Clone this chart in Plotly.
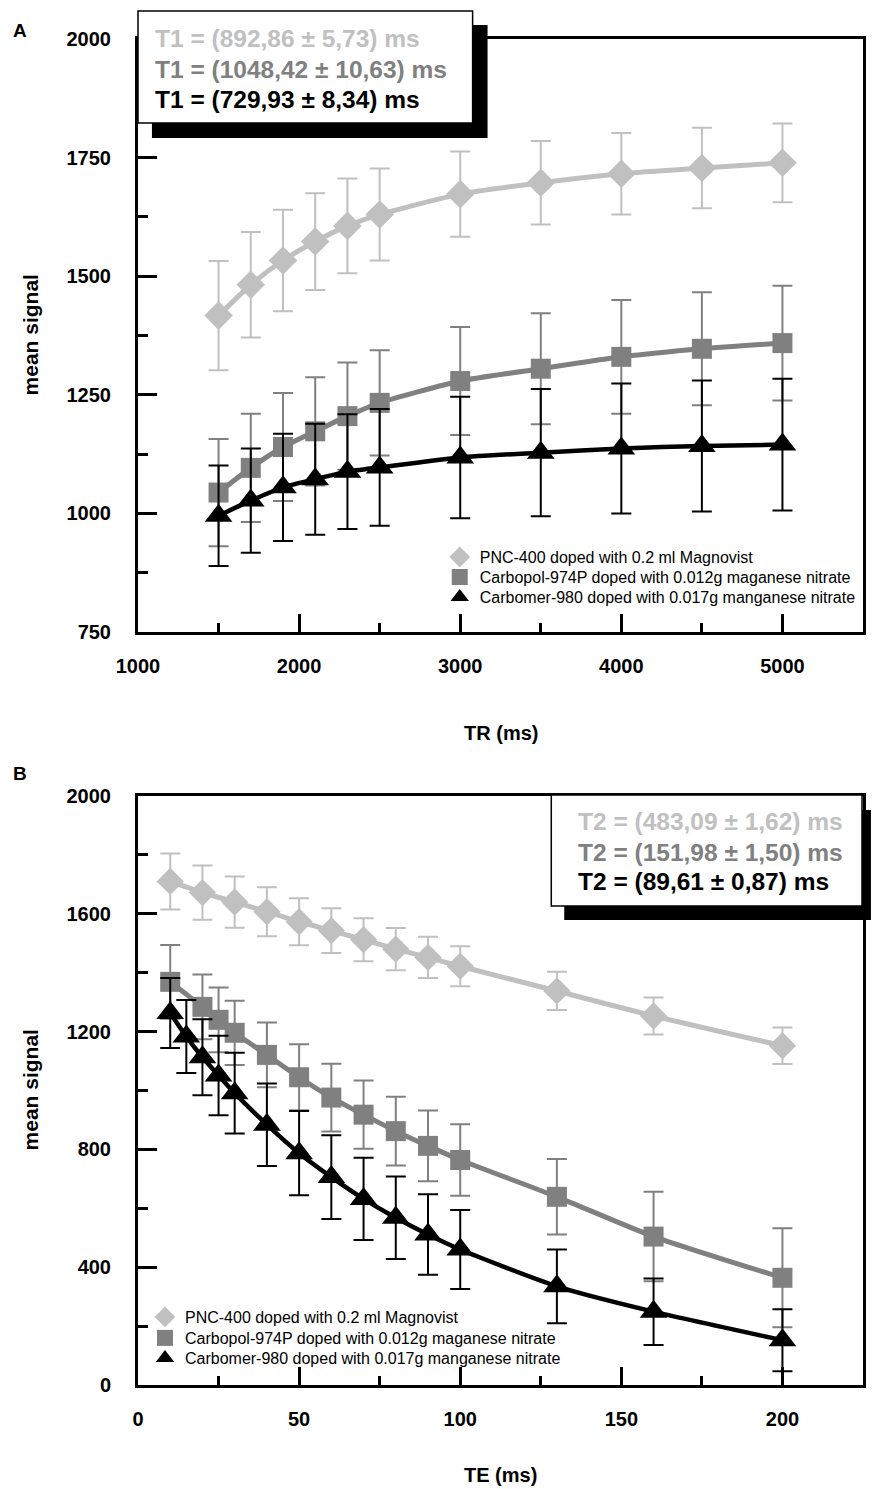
import plotly.graph_objects as go

# ---------------- data ----------------
TR = [1500, 1700, 1900, 2100, 2300, 2500, 3000, 3500, 4000, 4500, 5000]
A_pnc = [1417, 1482, 1533, 1573, 1606, 1630, 1673, 1697, 1716, 1728, 1739]
A_pnc_err = [115, 111, 107, 102, 100, 97, 90, 88, 86, 85, 83]
A_carbopol = [1044, 1096, 1140, 1173, 1205, 1233, 1279, 1305, 1330, 1347, 1359]
A_carbopol_err = [113, 114, 114, 114, 113, 111, 114, 117, 120, 119, 121]
A_carbomer = [995, 1027, 1055, 1072, 1088, 1097, 1118, 1128, 1137, 1142, 1145]
A_carbomer_err = [106, 110, 113, 117, 121, 123, 128, 134, 137, 138, 139]

TE_pnc = [10, 20, 30, 40, 50, 60, 70, 80, 90, 100, 130, 160, 200]
B_pnc = [1710, 1672, 1640, 1607, 1573, 1543, 1512, 1480, 1452, 1422, 1338, 1253, 1152]
B_pnc_err = [95, 92, 87, 83, 80, 76, 73, 72, 70, 68, 65, 63, 62]
TE_carbopol = [10, 20, 25, 30, 40, 50, 60, 70, 80, 90, 100, 130, 160, 200]
B_carbopol = [1369, 1284, 1240, 1196, 1121, 1045, 976, 918, 862, 812, 764, 639, 504, 364]
B_carbopol_err = [125, 110, 110, 109, 110, 112, 115, 116, 117, 120, 121, 128, 152, 168]
TE_carbomer = [10, 15, 20, 25, 30, 40, 50, 60, 70, 80, 90, 100, 130, 160, 200]
B_carbomer = [1263, 1183, 1113, 1051, 991, 884, 787, 706, 632, 568, 511, 460, 335, 249, 152]
B_carbomer_err = [119, 124, 129, 135, 137, 140, 143, 142, 140, 140, 137, 134, 125, 113, 105]

series_names = ["PNC-400 doped with 0.2 ml Magnovist",
                "Carbopol-974P doped with 0.012g maganese nitrate",
                "Carbomer-980 doped with 0.017g manganese nitrate"]
T1_labels = ["T1 = (892,86 ± 5,73) ms", "T1 = (1048,42 ± 10,63) ms", "T1 = (729,93 ± 8,34) ms"]
T2_labels = ["T2 = (483,09 ± 1,62) ms", "T2 = (151,98 ± 1,50) ms", "T2 = (89,61 ± 0,87) ms"]

# ---------------- styles ----------------
COLORS = ["#c0c0c0", "#808080", "#000000"]
SYMBOLS = ["diamond", "square", "triangle-up"]
SIZES_A = [22, 20, 24]
SIZES_B = [21, 20, 24]
LINE_W = [5, 5, 4.5]
FONT = "Liberation Sans, Arial, sans-serif"

W, H = 872, 1489
ML, MR, MT, MB = 138, 6, 39, 104
PW = W - ML - MR
PH = H - MT - MB


def px(x):
    return (x - ML) / PW


def py(y):
    return (H - MB - y) / PH


fig = go.Figure()

panelA = [(TR, A_pnc, A_pnc_err), (TR, A_carbopol, A_carbopol_err), (TR, A_carbomer, A_carbomer_err)]
panelB = [(TE_pnc, B_pnc, B_pnc_err), (TE_carbopol, B_carbopol, B_carbopol_err),
          (TE_carbomer, B_carbomer, B_carbomer_err)]

legend_rows = {}  # legend id -> (x_px, y_px)
leg_id = 0
for panel, xa, ya, sizes, lx, rows in [
        (panelA, "x", "y", SIZES_A, 441, [557, 577, 597]),
        (panelB, "x2", "y2", SIZES_B, 145, [1317, 1338, 1358])]:
    for i, (xs, ys, es) in enumerate(panel):
        leg_id += 1
        lname = "legend" if leg_id == 1 else f"legend{leg_id}"
        legend_rows[lname] = (lx, rows[i])
        fig.add_trace(go.Scatter(
            x=xs, y=ys, mode="lines", xaxis=xa, yaxis=ya,
            line=dict(color=COLORS[i], width=LINE_W[i], shape="spline", smoothing=0.6),
            showlegend=False, hoverinfo="skip"))
        fig.add_trace(go.Scatter(
            x=xs, y=ys, mode="markers", xaxis=xa, yaxis=ya, name=series_names[i],
            legend=lname,
            marker=dict(symbol=SYMBOLS[i], size=sizes[i], color=COLORS[i], line=dict(width=0)),
            error_y=dict(type="data", array=es, visible=True, color=COLORS[i],
                         thickness=2, width=10),
            showlegend=True))

axis_common = dict(showline=True, linewidth=3, linecolor="black", mirror=True,
                   ticks="inside", tickwidth=3, tickcolor="black",
                   showgrid=False, zeroline=False,
                   tickfont=dict(family=FONT, size=20, color="black", weight="bold"))

fig.update_layout(
    width=W, height=H,
    margin=dict(l=ML, r=MR, t=MT, b=MB),
    paper_bgcolor="white", plot_bgcolor="white",
    font=dict(family=FONT, color="black"),
    xaxis=dict(axis_common, range=[1000, 5500], dtick=1000, tick0=1000, ticklen=18,
               anchor="y", domain=[0, 1], ticklabelstandoff=14,
               minor=dict(dtick=500, tick0=1000, ticklen=9, tickwidth=3, ticks="inside",
                          tickcolor="black", showgrid=False)),
    yaxis=dict(axis_common, range=[750, 2000], dtick=250, tick0=750, ticklen=19,
               anchor="x", domain=[py(632), 1], ticklabelstandoff=20,
               minor=dict(dtick=125, tick0=750, ticklen=10, tickwidth=3, ticks="inside",
                          tickcolor="black", showgrid=False)),
    xaxis2=dict(axis_common, range=[0, 225], dtick=50, tick0=0, ticklen=18,
                anchor="y2", domain=[0, 1], ticklabelstandoff=14,
                minor=dict(dtick=25, tick0=0, ticklen=9, tickwidth=3, ticks="inside",
                           tickcolor="black", showgrid=False)),
    yaxis2=dict(axis_common, range=[0, 2000], dtick=400, tick0=0, ticklen=19,
                anchor="x2", domain=[0, py(796)], ticklabelstandoff=20,
                minor=dict(dtick=200, tick0=0, ticklen=10, tickwidth=3, ticks="inside",
                           tickcolor="black", showgrid=False)),
)

legend_layout = {}
for lname, (lx, ly) in legend_rows.items():
    legend_layout[lname] = dict(x=px(lx), y=py(ly), xanchor="left", yanchor="middle",
                                bgcolor="rgba(0,0,0,0)", borderwidth=0,
                                font=dict(family=FONT, size=16, color="black"))
fig.update_layout(**legend_layout)

shapes = []
# Panel A result box with shadow
shapes.append(dict(type="rect", xref="paper", yref="paper", x0=px(152), x1=px(489),
                   y0=py(138), y1=py(25), fillcolor="black", line=dict(width=0), layer="above"))
shapes.append(dict(type="rect", xref="paper", yref="paper", x0=px(138), x1=px(474),
                   y0=py(123), y1=py(11), fillcolor="white", line=dict(color="black", width=1.5),
                   layer="above"))
# Panel B result box with shadow
shapes.append(dict(type="rect", xref="paper", yref="paper", x0=px(566), x1=px(874),
                   y0=py(920), y1=py(810), fillcolor="black", line=dict(width=0), layer="above"))
shapes.append(dict(type="rect", xref="paper", yref="paper", x0=px(553), x1=px(865),
                   y0=py(906), y1=py(795), fillcolor="white", line=dict(color="black", width=1.5),
                   layer="above"))
fig.update_layout(shapes=shapes)

ann = []
for i, (txt, yy) in enumerate(zip(T1_labels, [38, 69, 100])):
    ann.append(dict(text=txt, x=px(153), y=py(yy), xref="paper", yref="paper",
                    xanchor="left", yanchor="middle", showarrow=False,
                    font=dict(family=FONT, size=24.5, color=COLORS[i], weight="bold")))
for i, (txt, yy) in enumerate(zip(T2_labels, [822, 852, 881])):
    ann.append(dict(text=txt, x=px(578), y=py(yy), xref="paper", yref="paper",
                    xanchor="left", yanchor="middle", showarrow=False,
                    font=dict(family=FONT, size=24.5, color=COLORS[i], weight="bold")))
# panel letters
ann.append(dict(text="A", x=px(20), y=py(30), xref="paper", yref="paper", showarrow=False,
                xanchor="center", yanchor="middle",
                font=dict(family=FONT, size=19, color="black", weight="bold")))
ann.append(dict(text="B", x=px(20), y=py(773), xref="paper", yref="paper", showarrow=False,
                xanchor="center", yanchor="middle",
                font=dict(family=FONT, size=19, color="black", weight="bold")))
# axis titles
for txt, yy in [("mean signal", 335), ("mean signal", 1090)]:
    ann.append(dict(text=txt, x=px(30), y=py(yy), xref="paper", yref="paper", showarrow=False,
                    textangle=-90, xanchor="center", yanchor="middle",
                    font=dict(family=FONT, size=21, color="black", weight="bold")))
for txt, yy in [("TR (ms)", 733), ("TE (ms)", 1475)]:
    ann.append(dict(text=txt, x=px(502), y=py(yy), xref="paper", yref="paper", showarrow=False,
                    xanchor="center", yanchor="middle",
                    font=dict(family=FONT, size=20, color="black", weight="bold")))
fig.update_layout(annotations=ann)

fig.write_html("out.html", config={"displayModeBar": False},
               post_script="document.body.style.margin='0px';document.body.style.overflow='hidden';")
